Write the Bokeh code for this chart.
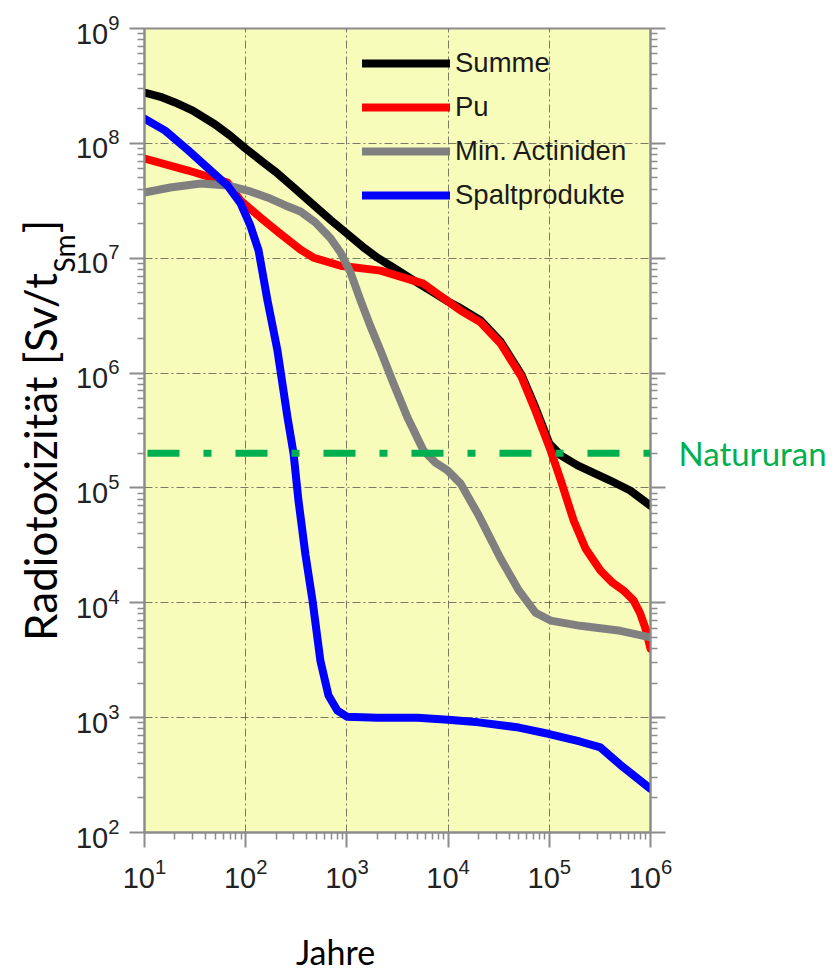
import numpy as np
from bokeh.plotting import figure
from bokeh.models import (LogAxis, LinearAxis, FixedTicker, Legend, LegendItem, Span,
                          ColumnDataSource, Range1d, LinearScale, CustomJSTickFormatter)
from bokeh.embed import file_html
from bokeh.resources import INLINE

# ---------------- data ----------------
t_summe = [10, 15, 20, 30, 50, 70, 100, 150, 200, 300, 500, 700, 1e3, 1.5e3, 2e3,
           3e3, 5e3, 7e3, 1e4, 1.3e4, 2.1e4, 3.3e4, 5.3e4, 7.3e4, 1e5, 1.3e5,
           1.9e5, 4e5, 6.3e5, 1e6]
v_summe = [2.77e8, 2.51e8, 2.27e8, 1.93e8, 1.46e8, 1.17e8, 9.0e7, 6.8e7, 5.6e7,
           4.1e7, 2.77e7, 2.13e7, 1.64e7, 1.22e7, 1.01e7, 8.1e6, 6.1e6, 5.1e6,
           4.2e6, 3.72e6, 2.87e6, 1.88e6, 9.7e5, 5.0e5, 2.44e5, 1.92e5, 1.57e5,
           1.16e5, 9.5e4, 7.0e4]

t_pu = [10, 27, 66, 89, 140, 219, 348, 468, 865, 2150, 5700, 1.33e4, 2.1e4, 3.3e4,
        5.3e4, 7.3e4, 1.03e5, 1.3e5, 1.74e5, 2.28e5, 3.2e5, 4.2e5, 5.4e5, 6.8e5,
        7.9e5, 8.9e5, 1e6]
v_pu = [7.38e7, 5.8e7, 4.56e7, 3.18e7, 2.26e7, 1.64e7, 1.19e7, 1.01e7, 8.6e6, 7.8e6,
        6.0e6, 3.5e6, 2.76e6, 1.81e6, 9.3e5, 4.7e5, 2.12e5, 1.16e5, 5.2e4, 2.97e4,
        1.91e4, 1.5e4, 1.28e4, 1.05e4, 8.1e3, 6.0e3, 4.0e3]

t_ma = [10, 18, 36, 66, 111, 164, 247, 348, 489, 689, 865, 1086, 1363, 1711, 2148,
        2886, 3970, 5710, 7500, 9860, 1.33e4, 2.0e4, 3.3e4, 5.0e4, 7.3e4, 1.03e5,
        2.03e5, 5.05e5, 1e6]
v_ma = [3.73e7, 4.13e7, 4.48e7, 4.3e7, 3.81e7, 3.38e7, 2.88e7, 2.55e7, 2.05e7,
        1.49e7, 1.12e7, 7.5e6, 4.3e6, 2.55e6, 1.57e6, 8.1e5, 4.1e5, 2.12e5, 1.66e5,
        1.42e5, 1.09e5, 5.8e4, 2.43e4, 1.28e4, 8.2e3, 7.0e3, 6.3e3, 5.7e3, 5.0e3]

t_sp = [10, 16, 27, 45, 66, 89, 111, 134, 164, 206, 259, 297, 332, 390, 457, 548,
        658, 807, 1e3, 2e3, 5e3, 1e4, 2e4, 5e4, 1e5, 2e5, 3.2e5, 5e5, 1e6]
v_sp = [1.64e8, 1.29e8, 8.7e7, 5.8e7, 4.3e7, 3.0e7, 1.93e7, 1.17e7, 4.3e6, 1.57e6,
        4.1e5, 2.0e5, 7.8e4, 2.6e4, 1.05e4, 3.1e3, 1.56e3, 1.15e3, 1.02e3, 1.0e3,
        1.0e3, 9.6e2, 9.1e2, 8.2e2, 7.2e2, 6.2e2, 5.5e2, 3.9e2, 2.4e2]

series_names = ["Summe", "Pu", "Min. Actiniden", "Spaltprodukte"]
natururan = 2e5
natururan_label = "Natururan"
x_title = "Jahre"
y_title_parts = ["Radiotoxizität [Sv/t", "Sm", "]"]

x_exponents = [1, 2, 3, 4, 5, 6]
y_exponents = [2, 3, 4, 5, 6, 7, 8, 9]

# ---------------- layout constants (pixels) ----------------
W, H = 838, 974
FRAME_L, FRAME_R, FRAME_T, FRAME_B = 144, 650, 28, 832

# ---------------- figure ----------------
p = figure(width=W, height=H, x_axis_type="log", y_axis_type="log",
           x_range=(10, 1e6), y_range=(1e2, 1e9),
           output_backend="svg", toolbar_location=None,
           min_border_left=FRAME_L, min_border_right=W - FRAME_R,
           min_border_top=FRAME_T, min_border_bottom=H - FRAME_B)
p.extra_x_ranges = {"px": Range1d(start=FRAME_L, end=FRAME_R)}
p.extra_x_scales = {"px": LinearScale()}
p.extra_y_ranges = {"px": Range1d(start=FRAME_B, end=FRAME_T)}
p.extra_y_scales = {"px": LinearScale()}

p.background_fill_color = "#F8FCBA"
p.border_fill_color = "white"
p.outline_line_color = "#8c8c8c"
p.outline_line_width = 2

xt = FixedTicker(ticks=[10.0 ** e for e in x_exponents],
                 minor_ticks=[k * 10.0 ** e for e in x_exponents[:-1] for k in range(2, 10)])
yt = FixedTicker(ticks=[10.0 ** e for e in y_exponents],
                 minor_ticks=[k * 10.0 ** e for e in y_exponents[:-1] for k in range(2, 10)])

def style_axis(ax):
    ax.axis_line_color = "#8c8c8c"
    ax.axis_line_width = 2
    ax.major_tick_line_color = "#8c8c8c"
    ax.major_tick_line_width = 2
    ax.minor_tick_line_color = "#8c8c8c"
    ax.minor_tick_line_width = 1.5
    ax.major_tick_out = 15
    ax.major_tick_in = 0
    ax.minor_tick_out = 7
    ax.minor_tick_in = 0
    ax.major_label_text_font = "Liberation Sans"
    ax.major_label_text_font_size = "29px"
    ax.major_label_text_color = "#222222"
    ax.major_label_standoff = 10

def text_axis(ax, font_size, color, standoff):
    ax.axis_line_color = None
    ax.major_tick_line_color = None
    ax.minor_tick_line_color = None
    ax.major_tick_out = 0
    ax.major_tick_in = 0
    ax.minor_tick_out = 0
    ax.minor_tick_in = 0
    ax.major_label_text_font = "Lato"
    ax.major_label_text_font_size = font_size
    ax.major_label_text_color = color
    ax.major_label_standoff = standoff

p.xaxis.ticker = xt
p.yaxis.ticker = yt
p.xgrid.ticker = xt
p.ygrid.ticker = yt
style_axis(p.xaxis[0])
style_axis(p.yaxis[0])

# right axis: ticks only (empty labels)
right = LogAxis(ticker=yt, formatter=CustomJSTickFormatter(code="return ''"))
style_axis(right)
right.major_label_text_font_size = "10px"
right.major_label_standoff = 0
p.add_layout(right, "right")

# right: Natururan label, tied to the Natururan level
nat_axis = LogAxis(ticker=FixedTicker(ticks=[natururan], minor_ticks=[]),
                   formatter=CustomJSTickFormatter(args=dict(lbl=natururan_label),
                                                   code="return lbl"))
text_axis(nat_axis, "33px", "#00B050", 13)
p.add_layout(nat_axis, "right")

# below: "Jahre"
jahre_axis = LinearAxis(x_range_name="px",
                        ticker=FixedTicker(ticks=[335], minor_ticks=[]),
                        formatter=CustomJSTickFormatter(args=dict(lbl=x_title),
                                                        code="return lbl"))
text_axis(jahre_axis, "34px", "#000000", 40)
p.add_layout(jahre_axis, "below")

# left: y title with subscript (two stacked label axes)
sub_axis = LinearAxis(y_range_name="px",
                      ticker=FixedTicker(ticks=[253], minor_ticks=[]),
                      formatter=CustomJSTickFormatter(args=dict(lbl=y_title_parts[1]),
                                                      code="return lbl"))
text_axis(sub_axis, "28px", "#000000", -8)
sub_axis.major_label_orientation = "vertical"
p.add_layout(sub_axis, "left")

title_pos = [456.5, 226]
main_axis = LinearAxis(y_range_name="px",
                       ticker=FixedTicker(ticks=title_pos, minor_ticks=[]),
                       formatter=CustomJSTickFormatter(
                           args=dict(pos=title_pos,
                                     lbls=[y_title_parts[0], y_title_parts[2]]),
                           code="return lbls[pos.indexOf(tick)]"))
text_axis(main_axis, "44px", "#000000", -22)
main_axis.major_label_orientation = "vertical"
p.add_layout(main_axis, "left")

p.grid.grid_line_color = "#444444"
p.grid.grid_line_alpha = 0.7
p.grid.grid_line_width = 1
p.grid.grid_line_dash = "8 3 2 3"

# ---------------- curves ----------------
colors = ["#000000", "#FF0000", "#808080", "#0000FF"]
data = [(t_summe, v_summe), (t_pu, v_pu), (t_ma, v_ma), (t_sp, v_sp)]
items = []
for name, (t, v), c in zip(series_names, data, colors):
    src = ColumnDataSource(dict(t=t, v=v))
    r = p.line("t", "v", source=src, line_color=c, line_width=8,
               line_cap="round", line_join="round")
    items.append(LegendItem(label=name, renderers=[r]))

p.add_layout(Span(location=natururan, dimension="width", line_color="#00B050",
                  line_width=7, line_dash="32 24 8 24", line_dash_offset=-3))

legend = Legend(items=items, location=(218, 615), orientation="vertical",
                glyph_width=88, glyph_height=44, label_height=44, spacing=0,
                padding=0, margin=0, label_standoff=5,
                label_text_font="Liberation Sans", label_text_font_size="27.5px",
                label_text_color="#1a1a1a",
                background_fill_alpha=0, border_line_alpha=0)
p.add_layout(legend)

open("out.html", "w").write(file_html(p, INLINE))
